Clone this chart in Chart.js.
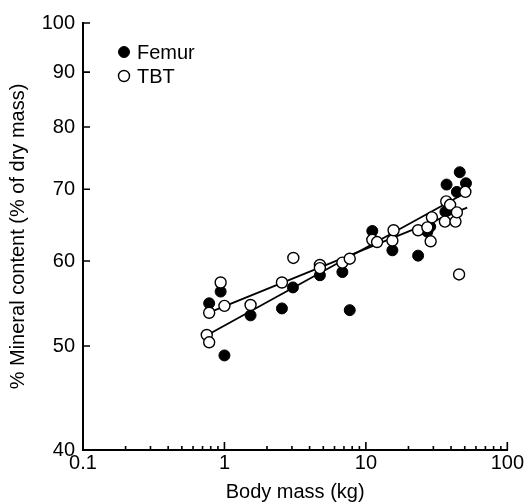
<!DOCTYPE html>
<html lang="en">
<head>
  <meta charset="UTF-8">
  <title>Mineral content vs body mass</title>
  <script src="https://cdn.jsdelivr.net/npm/chart.js"></script>
  <style>
    body {
      margin: 0;
      background: #ffffff;
    }
    #wrap {
      width: 525px;
      height: 504px;
    }
  </style>
</head>
<body>

<div id="wrap"><canvas id="chart" width="525" height="504"></canvas></div>

<script>
// Femur (filled circles)
const femurMass    = [0.78, 0.94, 1.0, 1.53, 2.55, 3.05, 4.73, 6.82, 7.69, 11.1, 15.4, 23.4, 27.2, 28.5, 36.5, 37.2, 38.5, 44.0, 46.1, 51.0];
const femurMineral = [54.8, 56.2, 49.0, 53.4, 54.2, 56.7, 58.2, 58.6, 54.0, 64.0, 61.4, 60.7, 63.9, 64.6, 66.7, 70.7, 67.2, 69.6, 72.6, 70.9];

// TBT (open circles)
const tbtMass    = [0.75, 0.78, 0.78, 0.94, 1.0, 1.53, 2.55, 3.07, 4.73, 4.73, 6.82, 7.69, 11.1, 12.0, 15.4, 15.7, 23.4, 27.2, 28.7, 29.3, 36.2, 37.0, 39.4, 43.0, 44.0, 45.6, 50.5];
const tbtMineral = [51.2, 50.4, 53.7, 57.3, 54.5, 54.6, 57.3, 60.4, 59.5, 59.1, 59.8, 60.3, 62.8, 62.5, 62.7, 64.1, 64.1, 64.5, 62.6, 65.9, 65.3, 68.2, 67.7, 65.3, 66.6, 58.3, 69.6];

// fitted lines (end points)
const femurFitMass    = [0.78, 50];
const femurFitMineral = [51.3, 69.4];
const tbtFitMass      = [0.8, 52];
const tbtFitMineral   = [53.8, 67.3];

const xTicks      = [0.1, 1, 10, 100];
const xMinorTicks = [0.2, 0.3, 0.4, 0.5, 0.6, 0.7, 0.8, 0.9, 2, 3, 4, 5, 6, 7, 8, 9, 20, 30, 40, 50, 60, 70, 80, 90];
const yTicks      = [40, 50, 60, 70, 80, 90, 100];

const FONT = { family: "'Liberation Sans', Arial, sans-serif", size: 20 };

function pts(xs, ys) {
  return xs.map((x, i) => ({ x: x, y: ys[i] }));
}

// ticks point into the plot, like the original figure
const inwardTicks = {
  id: 'inwardTicks',
  afterDraw(chart) {
    const ctx = chart.ctx;
    const xs = chart.scales.x, ys = chart.scales.y;
    const area = chart.chartArea;
    ctx.save();
    ctx.strokeStyle = '#000';
    ctx.lineWidth = 1.6;
    ctx.beginPath();
    xTicks.forEach(v => {
      const px = xs.getPixelForValue(v);
      ctx.moveTo(px, area.bottom);
      ctx.lineTo(px, area.bottom - 8);
    });
    xMinorTicks.forEach(v => {
      const px = xs.getPixelForValue(v);
      ctx.moveTo(px, area.bottom);
      ctx.lineTo(px, area.bottom - 4);
    });
    yTicks.forEach(v => {
      const py = ys.getPixelForValue(v);
      ctx.moveTo(area.left, py);
      ctx.lineTo(area.left + 7, py);
    });
    ctx.stroke();
    ctx.restore();
  }
};

// small legend in the top left corner of the plot
const cornerLegend = {
  id: 'cornerLegend',
  afterDraw(chart) {
    const ctx = chart.ctx;
    const area = chart.chartArea;
    const items = chart.data.datasets
      .filter(d => d.legendRank !== undefined)
      .sort((a, b) => a.legendRank - b.legendRank);
    ctx.save();
    ctx.font = FONT.size + 'px ' + FONT.family;
    ctx.textBaseline = 'middle';
    items.forEach((d, i) => {
      const cx = area.left + 41;
      const cy = area.top + 29 + i * 24;
      ctx.beginPath();
      ctx.arc(cx, cy, 5.5, 0, Math.PI * 2);
      ctx.fillStyle = d.backgroundColor;
      ctx.fill();
      ctx.lineWidth = d.borderWidth;
      ctx.strokeStyle = d.borderColor;
      ctx.stroke();
      ctx.fillStyle = '#000';
      ctx.fillText(d.label, cx + 13, cy + 1);
    });
    ctx.restore();
  }
};

new Chart(document.getElementById('chart'), {
  type: 'scatter',
  data: {
    datasets: [
      {
        label: 'TBT',
        legendRank: 1,
        data: pts(tbtMass, tbtMineral),
        backgroundColor: '#ffffff',
        borderColor: '#000000',
        borderWidth: 1.4,
        pointRadius: 5.5,
        order: 0
      },
      {
        label: 'Femur',
        legendRank: 0,
        data: pts(femurMass, femurMineral),
        backgroundColor: '#000000',
        borderColor: '#000000',
        borderWidth: 1,
        pointRadius: 5.5,
        order: 1
      },
      {
        label: 'Femur fit',
        type: 'line',
        data: pts(femurFitMass, femurFitMineral),
        borderColor: '#000000',
        borderWidth: 1.8,
        pointRadius: 0,
        fill: false,
        order: 2
      },
      {
        label: 'TBT fit',
        type: 'line',
        data: pts(tbtFitMass, tbtFitMineral),
        borderColor: '#000000',
        borderWidth: 1.8,
        pointRadius: 0,
        fill: false,
        order: 2
      }
    ]
  },
  options: {
    responsive: false,
    animation: false,
    layout: { padding: { top: 23, right: 15, left: 0, bottom: 0 } },
    plugins: {
      legend: { display: false },
      tooltip: { enabled: false }
    },
    scales: {
      x: {
        type: 'logarithmic',
        min: 0.1,
        max: 100,
        afterBuildTicks: s => { s.ticks = xTicks.map(v => ({ value: v })); },
        afterFit: s => { s.height = 54; },
        ticks: {
          callback: v => String(v),
          font: FONT,
          color: '#000',
          padding: 1,
          maxRotation: 0,
          autoSkip: false
        },
        grid: { display: false, drawTicks: false },
        border: { display: true, color: '#000', width: 2 },
        title: {
          display: true,
          text: 'Body mass (kg)',
          font: FONT,
          color: '#000',
          padding: { top: 0, bottom: 0 }
        }
      },
      y: {
        type: 'logarithmic',
        min: 40,
        max: 100,
        afterBuildTicks: s => { s.ticks = yTicks.map(v => ({ value: v })); },
        afterFit: s => { s.width = 83; },
        ticks: {
          callback: v => String(v),
          font: FONT,
          color: '#000',
          padding: 8,
          autoSkip: false
        },
        grid: { display: false, drawTicks: false },
        border: { display: true, color: '#000', width: 2 },
        title: {
          display: true,
          text: '% Mineral content (% of dry mass)',
          font: FONT,
          color: '#000',
          padding: { top: 6, bottom: 0 }
        }
      }
    }
  },
  plugins: [inwardTicks, cornerLegend]
});
</script>

</body>
</html>
